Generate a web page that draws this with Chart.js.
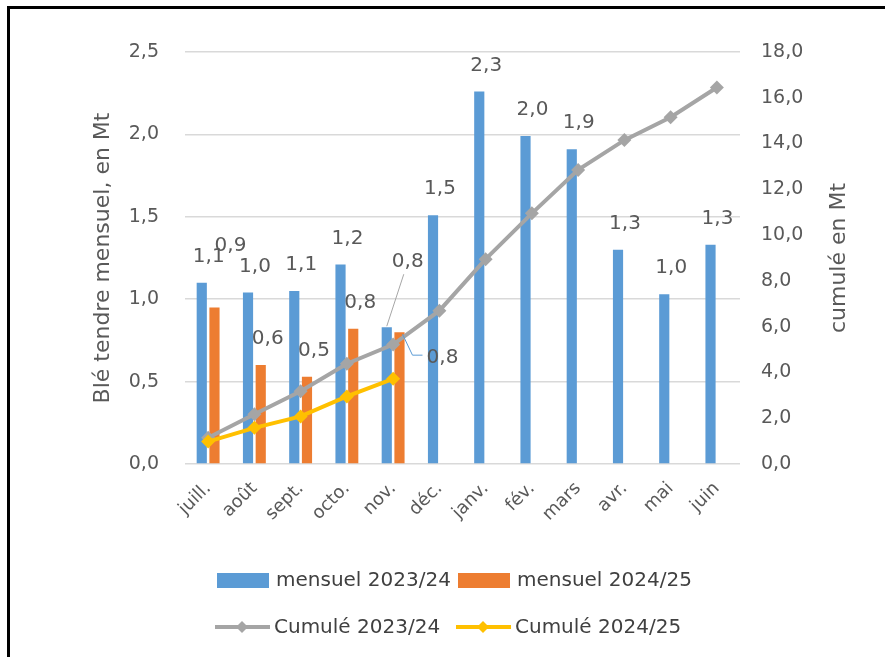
<!DOCTYPE html>
<html>
<head>
<meta charset="utf-8">
<script src="https://cdn.jsdelivr.net/npm/chart.js@4"></script>
<style>
  html, body { margin: 0; padding: 0; background: #fff; }
  #wrap { position: relative; width: 885px; height: 657px; overflow: hidden; }
  #frame { position: absolute; left: 7px; top: 6px; width: 900px; height: 700px;
           border-left: 3px solid #000; border-top: 3px solid #000; box-sizing: border-box; }
  canvas { position: absolute; left: 0; top: 0; }
</style>
</head>
<body>
<div id="wrap">
  <div id="frame"></div>
  <canvas id="chart" width="885" height="657"></canvas>
</div>
<script>
// données
const mois = ['juill.', 'août', 'sept.', 'octo.', 'nov.', 'déc.', 'janv.', 'fév.', 'mars', 'avr.', 'mai', 'juin'];
const mensuel2324 = [1.10, 1.04, 1.05, 1.21, 0.83, 1.51, 2.26, 1.99, 1.91, 1.30, 1.03, 1.33];
const mensuel2425 = [0.95, 0.60, 0.53, 0.82, 0.80, null, null, null, null, null, null, null];
const cumul2324 = [1.15, 2.17, 3.18, 4.38, 5.22, 6.70, 8.95, 10.95, 12.85, 14.15, 15.15, 16.45];
const cumul2425 = [0.98, 1.58, 2.08, 2.95, 3.72];
const ticksGauche = [0, 0.5, 1.0, 1.5, 2.0, 2.5];
const ticksDroite = [0, 2, 4, 6, 8, 10, 12, 14, 16, 18];

const FONT = 'DejaVu Sans';
const GRIS_TEXTE = '#595959';

const fmt = v => v.toFixed(1).replace('.', ',');

// décalages des étiquettes (dx, dy depuis le haut de la barre) + traits de rappel
const decalBleu = { 4: { dx: 21, dy: -65, lead: '#a6a6a6' } };
const decalOrange = {
    0: { dx: 16, dy: -62 },
    4: { dx: 43, dy: 26, lead: '#5b9bd5' }
};

const etiquettes = {
    id: 'etiquettes',
    afterDatasetsDraw(chart) {
        const ctx = chart.ctx;
        ctx.save();
        ctx.font = '20px ' + FONT;
        ctx.fillStyle = GRIS_TEXTE;
        ctx.textAlign = 'center';
        ctx.textBaseline = 'middle';
        [[0, mensuel2324, decalBleu], [1, mensuel2425, decalOrange]].forEach(([idx, vals, decal]) => {
            const meta = chart.getDatasetMeta(idx);
            meta.data.forEach((bar, i) => {
                if (vals[i] == null) return;
                const d = decal[i] || { dx: 7, dy: -26 };
                const x = bar.x + d.dx, y = bar.y + d.dy;
                if (d.lead) {
                    ctx.strokeStyle = d.lead;
                    ctx.lineWidth = 1;
                    ctx.beginPath();
                    if (d.dy < 0) {
                        ctx.moveTo(x - 4, y + 12);
                        ctx.lineTo(bar.x, bar.y - 1);
                    } else {
                        ctx.moveTo(bar.x + 3, bar.y + 2);
                        ctx.lineTo(bar.x + 13, y - 3);
                        ctx.lineTo(bar.x + 23, y - 3);
                    }
                    ctx.stroke();
                }
                ctx.fillText(fmt(vals[i]), x, y);
            });
        });
        ctx.restore();
    }
};

const titresEtLegende = {
    id: 'titresEtLegende',
    afterDraw(chart) {
        const ctx = chart.ctx;
        ctx.save();
        ctx.font = '22px ' + FONT;
        ctx.fillStyle = GRIS_TEXTE;
        ctx.textAlign = 'center';
        ctx.textBaseline = 'middle';
        const midY = (chart.chartArea.top + chart.chartArea.bottom) / 2;
        [[103, 'Blé tendre mensuel, en Mt'], [839, 'cumulé en Mt']].forEach(([x, t]) => {
            ctx.save();
            ctx.translate(x, midY);
            ctx.rotate(-Math.PI / 2);
            ctx.fillText(t, 0, 0);
            ctx.restore();
        });

        // légende sur deux lignes
        const ds = chart.data.datasets;
        const pos = [[217, 580], [458, 580], [215, 627], [456, 627]];
        ctx.font = '20px ' + FONT;
        ctx.textAlign = 'left';
        ds.forEach((d, i) => {
            const [x, y] = pos[i];
            if (d.type === 'bar') {
                ctx.fillStyle = d.backgroundColor;
                ctx.fillRect(x, y - 7, 52, 15);
            } else {
                ctx.strokeStyle = d.borderColor;
                ctx.lineWidth = 4;
                ctx.beginPath();
                ctx.moveTo(x, y);
                ctx.lineTo(x + 55, y);
                ctx.stroke();
                ctx.fillStyle = d.borderColor;
                ctx.beginPath();
                ctx.moveTo(x + 27, y - 6);
                ctx.lineTo(x + 33, y);
                ctx.lineTo(x + 27, y + 6);
                ctx.lineTo(x + 21, y);
                ctx.closePath();
                ctx.fill();
            }
            ctx.fillStyle = '#404040';
            ctx.fillText(d.label, x + 59, y + 1);
        });
        ctx.restore();
    }
};

const ctx = document.getElementById('chart').getContext('2d');
const chart = new Chart(ctx, {
    data: {
        labels: mois,
        datasets: [{
            type: 'bar',
            label: 'mensuel 2023/24',
            data: mensuel2324,
            backgroundColor: '#5b9bd5',
            yAxisID: 'y',
            order: 2,
            barPercentage: 0.8,
            categoryPercentage: 0.55
        }, {
            type: 'bar',
            label: 'mensuel 2024/25',
            data: mensuel2425,
            backgroundColor: '#ed7d31',
            yAxisID: 'y',
            order: 2,
            barPercentage: 0.8,
            categoryPercentage: 0.55
        }, {
            type: 'line',
            label: 'Cumulé 2023/24',
            data: cumul2324,
            borderColor: '#a5a5a5',
            backgroundColor: '#a5a5a5',
            borderWidth: 4,
            pointStyle: 'rectRot',
            pointRadius: 7,
            pointBorderWidth: 0,
            tension: 0,
            yAxisID: 'y1',
            order: 1
        }, {
            type: 'line',
            label: 'Cumulé 2024/25',
            data: cumul2425,
            borderColor: '#ffc000',
            backgroundColor: '#ffc000',
            borderWidth: 4,
            pointStyle: 'rectRot',
            pointRadius: 7,
            pointBorderWidth: 0,
            tension: 0,
            yAxisID: 'y1',
            order: 0
        }]
    },
    options: {
        responsive: false,
        animation: false,
        layout: { padding: { top: 52, left: 0, right: 0, bottom: 0 } },
        plugins: {
            legend: { display: false },
            tooltip: { enabled: false }
        },
        scales: {
            x: {
                grid: { display: false },
                border: { display: false },
                ticks: {
                    color: GRIS_TEXTE,
                    font: { family: FONT, size: 18 },
                    minRotation: 45,
                    maxRotation: 45,
                    padding: 6
                },
                afterFit(scale) { scale.height = 193; }
            },
            y: {
                position: 'left',
                min: 0,
                max: 2.5,
                afterBuildTicks(scale) { scale.ticks = ticksGauche.map(v => ({ value: v })); },
                ticks: {
                    color: GRIS_TEXTE,
                    font: { family: FONT, size: 19 },
                    padding: 26,
                    callback: v => fmt(v)
                },
                grid: { color: '#d9d9d9', lineWidth: 1.5, drawTicks: false },
                border: { display: false },
                afterFit(scale) { scale.width = 185; }
            },
            y1: {
                position: 'right',
                min: 0,
                max: 18,
                afterBuildTicks(scale) { scale.ticks = ticksDroite.map(v => ({ value: v })); },
                ticks: {
                    color: GRIS_TEXTE,
                    font: { family: FONT, size: 19 },
                    padding: 21,
                    callback: v => fmt(v)
                },
                grid: { display: false, drawTicks: false },
                border: { display: false },
                afterFit(scale) { scale.width = 145; }
            }
        }
    },
    plugins: [etiquettes, titresEtLegende]
});
</script>
</body>
</html>
